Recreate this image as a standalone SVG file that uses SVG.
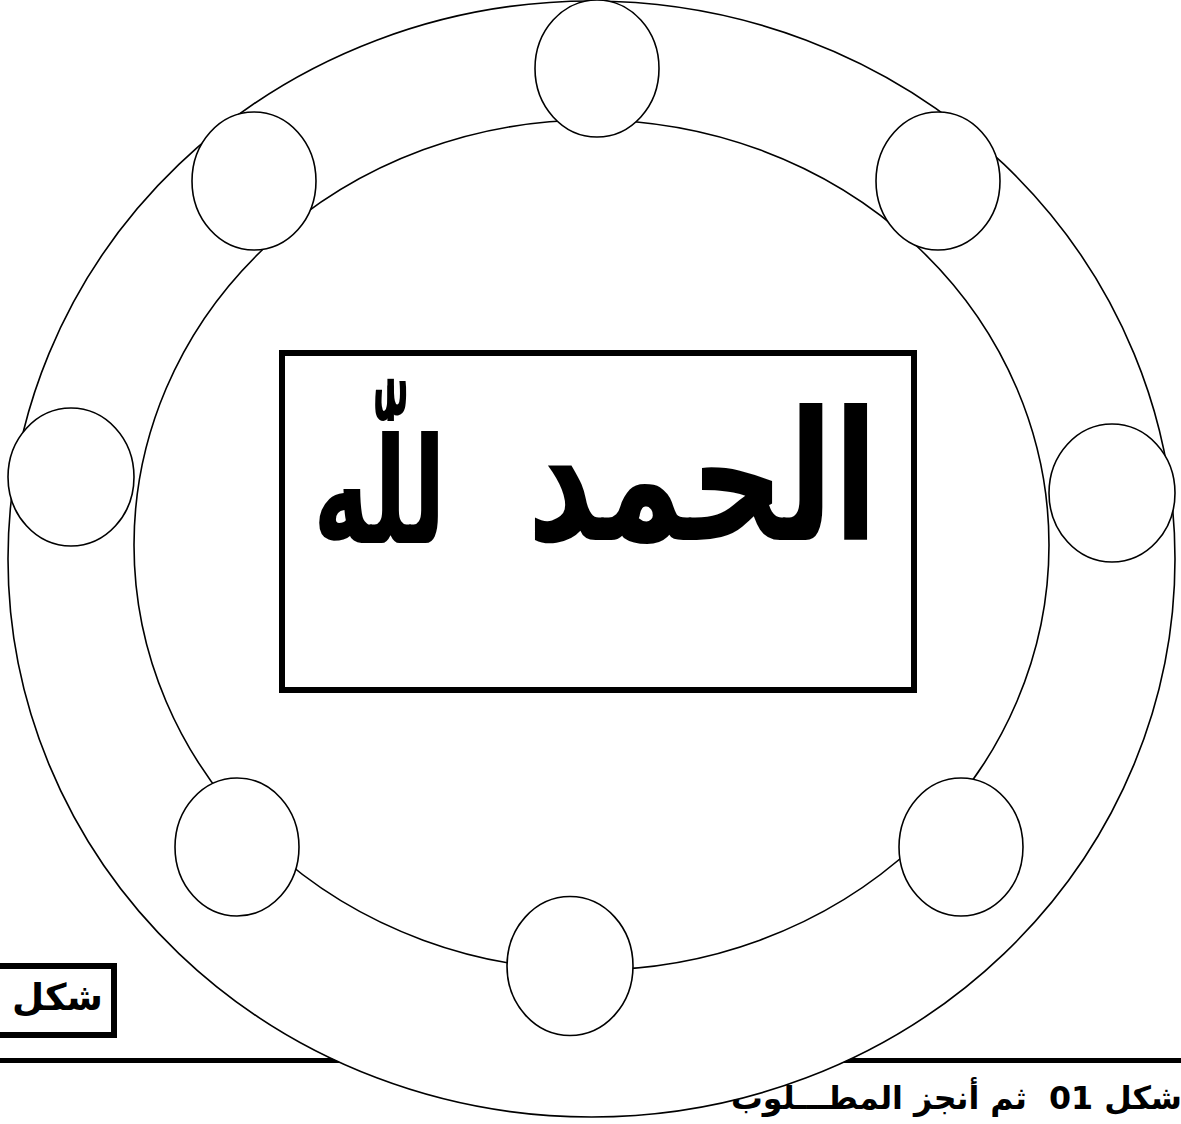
<svg xmlns="http://www.w3.org/2000/svg" width="1181" height="1124" viewBox="0 0 1181 1124">
  <style>
    .ring { fill: #ffffff; stroke: #000000; stroke-width: 1.6; }
    .ringin { fill: none; stroke: #000000; stroke-width: 1.6; }
    .dot { fill: #ffffff; stroke: #000000; stroke-width: 1.6; }
    .box { fill: #ffffff; stroke: #000000; stroke-width: 6; }
    .ar { font-family: "DejaVu Sans", "Noto Sans", sans-serif; font-weight: bold; fill: #000000; direction: rtl; white-space: pre; }
  </style>
  <rect x="0" y="0" width="1181" height="1124" fill="#ffffff"/>
  <line id="rule" x1="0" y1="1060.5" x2="1181" y2="1060.5" stroke="#000000" stroke-width="5"/>
  <g id="label-box">
    <rect class="box" x="-10" y="966" width="124" height="69"/>
    <text class="ar" x="103" y="1010" font-size="37" text-anchor="start">شكل</text>
  </g>
  <g id="outer-ring">
    <ellipse class="ring" cx="591.5" cy="559" rx="583.5" ry="558"/>
  </g>
  <g id="inner-ring">
    <ellipse class="ringin" cx="591.5" cy="545" rx="457.5" ry="425"/>
  </g>
  <g id="connectors"></g>
  <g id="node-top"><ellipse class="dot" cx="597" cy="68.5" rx="62" ry="68.5"/></g>
  <g id="node-top-left"><ellipse class="dot" cx="254" cy="181" rx="62" ry="69"/></g>
  <g id="node-top-right"><ellipse class="dot" cx="938" cy="181" rx="62" ry="69"/></g>
  <g id="node-left"><ellipse class="dot" cx="71" cy="477" rx="63" ry="69"/></g>
  <g id="node-right"><ellipse class="dot" cx="1112" cy="493" rx="63" ry="69"/></g>
  <g id="node-bottom-left"><ellipse class="dot" cx="237" cy="847" rx="62" ry="69"/></g>
  <g id="node-bottom-right"><ellipse class="dot" cx="961" cy="847" rx="62" ry="69"/></g>
  <g id="node-bottom"><ellipse class="dot" cx="570" cy="966" rx="63" ry="69.5"/></g>
  <g id="center">
    <rect class="box" x="282" y="353" width="632" height="337"/>
    <text class="ar" y="540" text-anchor="start"><tspan x="878" font-size="180" textLength="351" lengthAdjust="spacingAndGlyphs">الحمد</tspan><tspan x="446" y="543" font-size="148" textLength="133" lengthAdjust="spacingAndGlyphs">للّٰه</tspan></text>
  </g>
  <g id="instruction">
    <text class="ar" x="1182" y="1109" font-size="32" text-anchor="start" textLength="451" lengthAdjust="spacingAndGlyphs">شكل 01  ثم أنجز المطـــلوب</text>
  </g>
</svg>
